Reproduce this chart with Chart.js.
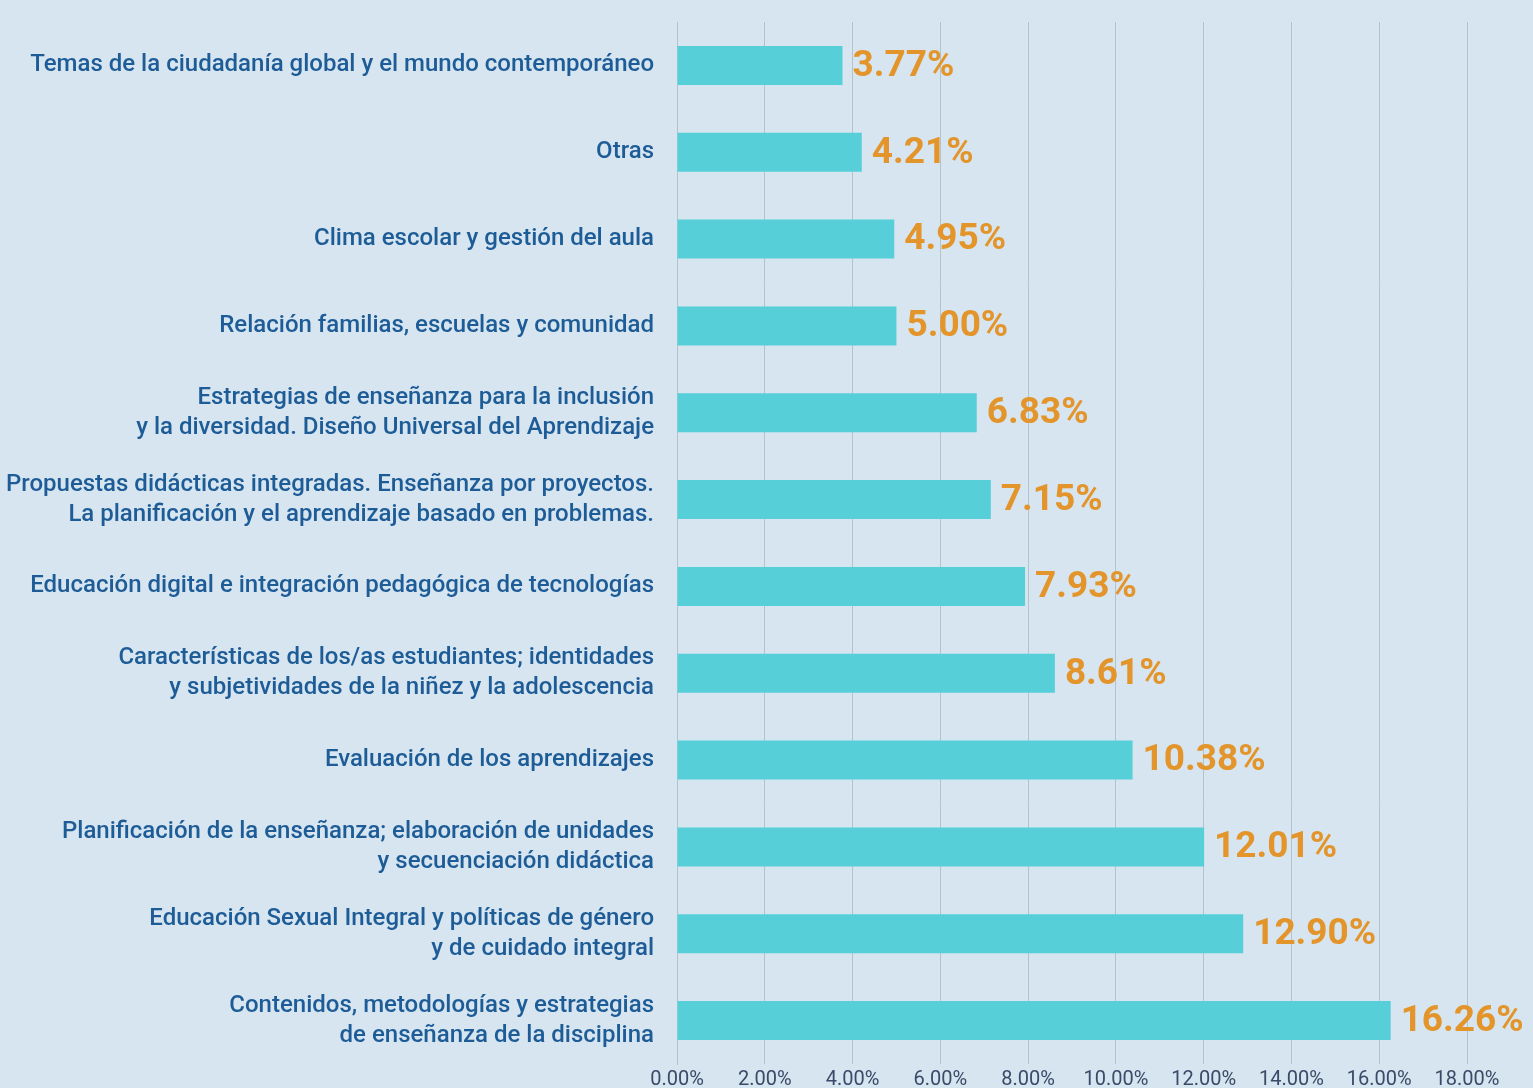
<!DOCTYPE html>
<html>
<head>
<meta charset="utf-8">
<script src="https://cdn.jsdelivr.net/npm/chart.js@4"></script>
<style>
  html, body { margin: 0; padding: 0; background: #d6e5ef; }
  #wrap { width: 1533px; height: 1088px; }
</style>
</head>
<body>
<div id="wrap"><canvas id="topicsChart"></canvas></div>
<script>
// categories (top to bottom)
const topics = [
    'Temas de la ciudadanía global y el mundo contemporáneo',
    'Otras',
    'Clima escolar y gestión del aula',
    'Relación familias, escuelas y comunidad',
    ['Estrategias de enseñanza para la inclusión', 'y la diversidad. Diseño Universal del Aprendizaje'],
    ['Propuestas didácticas integradas. Enseñanza por proyectos.', 'La planificación y el aprendizaje basado en problemas.'],
    'Educación digital e integración pedagógica de tecnologías',
    ['Características de los/as estudiantes; identidades', 'y subjetividades de la niñez y la adolescencia'],
    'Evaluación de los aprendizajes',
    ['Planificación de la enseñanza; elaboración de unidades', 'y secuenciación didáctica'],
    ['Educación Sexual Integral y políticas de género', 'y de cuidado integral'],
    ['Contenidos, metodologías y estrategias', 'de enseñanza de la disciplina']
];

// percentages
const shares = [3.77, 4.21, 4.95, 5.00, 6.83, 7.15, 7.93, 8.61, 10.38, 12.01, 12.90, 16.26];

// x axis ticks
const xTicks = [0, 2, 4, 6, 8, 10, 12, 14, 16, 18];

// value labels at bar ends
const valueLabels = {
    id: 'valueLabels',
    afterDatasetsDraw(chart) {
        const ctx = chart.ctx;
        const meta = chart.getDatasetMeta(0);
        ctx.save();
        ctx.font = 'bold 37px Roboto';
        ctx.fillStyle = '#e3952b';
        ctx.textAlign = 'left';
        ctx.textBaseline = 'middle';
        meta.data.forEach((bar, i) => {
            ctx.fillText(shares[i].toFixed(2) + '%', bar.x + 10, bar.y + 1);
        });
        ctx.restore();
    }
};

new Chart(document.getElementById('topicsChart'), {
    type: 'bar',
    data: {
        labels: topics,
        datasets: [{
            data: shares,
            backgroundColor: '#56cfd9',
            borderWidth: 0,
            barPercentage: 0.9,
            categoryPercentage: 0.5
        }]
    },
    options: {
        indexAxis: 'y',
        responsive: true,
        maintainAspectRatio: false,
        animation: false,
        layout: {
            padding: { top: 22, right: 66, left: 0, bottom: 0 }
        },
        plugins: {
            legend: { display: false },
            tooltip: { enabled: false }
        },
        scales: {
            x: {
                min: 0,
                max: 18,
                afterBuildTicks: axis => {
                    axis.ticks = xTicks.map(v => ({ value: v }));
                },
                afterFit: axis => {
                    axis.height = 24;
                    axis.paddingLeft = 0;
                    axis.paddingRight = 0;
                },
                ticks: {
                    color: '#3b4a68',
                    font: { family: 'Roboto', size: 20 },
                    padding: 4,
                    callback: v => v.toFixed(2) + '%'
                },
                grid: {
                    color: '#b4c2cc',
                    drawTicks: false
                },
                border: { display: false }
            },
            y: {
                afterFit: axis => {
                    axis.width = 677;
                    axis.paddingTop = 0;
                    axis.paddingBottom = 0;
                },
                ticks: {
                    color: '#1d5c97',
                    font: { family: 'Roboto', size: 24, weight: '500', lineHeight: 1.25 },
                    padding: 23
                },
                grid: { display: false, drawTicks: false },
                border: { display: true, color: '#b4c2cc' }
            }
        }
    },
    plugins: [valueLabels]
});
</script>
</body>
</html>
